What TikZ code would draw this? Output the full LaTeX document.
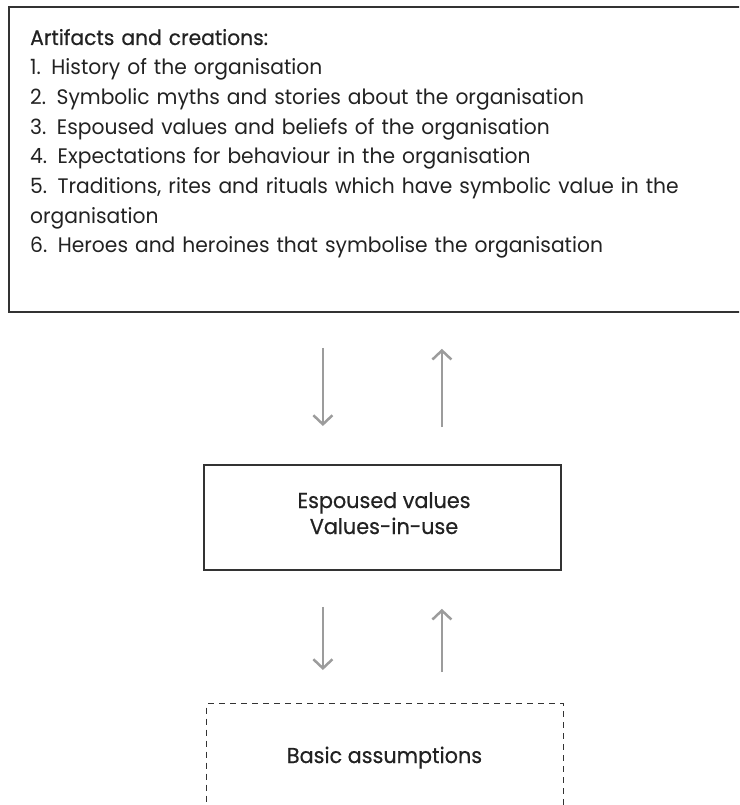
\documentclass[tikz,border=0pt]{standalone}
\usepackage{fontspec}
\setmainfont{Poppins}[FakeStretch=0.965]
\newfontfamily\headfont{Poppins}[FakeStretch=0.965,FakeBold=0.5]
\usetikzlibrary{arrows.meta}
\definecolor{edge}{HTML}{333333}
\definecolor{flowgray}{HTML}{9C9C9C}
\definecolor{ink}{HTML}{222222}
\tikzset{
  panel/.style={draw=edge, line width=1.8pt, inner sep=0pt},
  dashpanel/.style={draw=edge, line width=1.4pt, dash pattern=on 6pt off 5pt, inner sep=0pt},
  flow/.style={draw=flowgray, line width=2.5pt,
    -{Straight Barb[length=9pt,width=19pt,line width=2.5pt]}},
  bodytext/.style={font=\fontsize{21}{29.7}\selectfont, text=ink, align=left, inner sep=0pt},
  headtext/.style={font=\headfont\fontsize{21.5}{26}\selectfont, text=ink, align=center, inner sep=0pt},
}
\begin{document}
\begin{tikzpicture}[x=1pt,y=-1pt]
  \useasboundingbox (0,0) rectangle (739,805);
  \clip (0,0) rectangle (739,805);
  % outer layer: artifacts
  \node[panel, minimum width=737pt, minimum height=305pt, anchor=north west] (artifacts) at (8,6) {};
  \node[bodytext, anchor=base west, text width=690pt] (artlist) at (30,45)
    {{\headfont Artifacts and creations:}\\
     1. History of the organisation\\
     2. Symbolic myths and stories about the organisation\\
     3. Espoused values and beliefs of the organisation\\
     4. Expectations for behaviour in the organisation\\
     5. Traditions, rites and rituals which have symbolic value in the\\
     organisation\\
     6. Heroes and heroines that symbolise the organisation};
  % middle layer
  \node[panel, minimum width=357pt, minimum height=105pt, anchor=north west] (values) at (203,464) {};
  \node[headtext, anchor=base] (valtext) at (384,534) {Espoused values\\Values-in-use};
  % inner layer (open at the bottom edge)
  \node[dashpanel, minimum width=357pt, minimum height=140pt, anchor=north west] (basic) at (206,703) {};
  \node[headtext, anchor=base] (basictext) at (384.5,763) {Basic assumptions};
  % exchanges between layers
  \draw[flow, shorten <=35pt, shorten >=38pt]
    ([xshift=-59.5pt]values.north |- artifacts.south) -- ([xshift=-59.5pt]values.north);
  \draw[flow, shorten <=37pt, shorten >=36pt]
    ([xshift=59.5pt]values.north) -- ([xshift=59.5pt]values.north |- artifacts.south);
  \draw[flow, shorten <=36pt, shorten >=33pt]
    ([xshift=-59.5pt]values.south) -- ([xshift=-59.5pt]values.south |- basic.north);
  \draw[flow, shorten <=31pt, shorten >=38pt]
    ([xshift=59.5pt]values.south |- basic.north) -- ([xshift=59.5pt]values.south);
\end{tikzpicture}
\end{document}
